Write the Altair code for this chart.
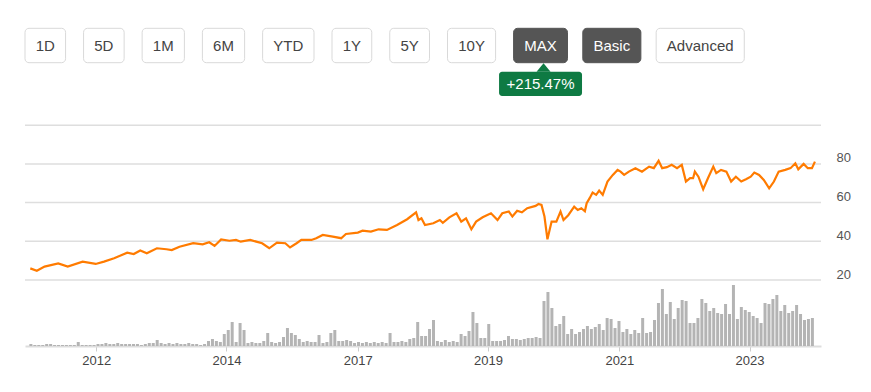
import altair as alt
import pandas as pd

# ---------------- data ----------------
price_year = [2011.59, 2011.70, 2011.83, 2012.06, 2012.22, 2012.47, 2012.69, 2012.83, 2013.00, 2013.22,
              2013.33, 2013.44, 2013.55, 2013.72, 2013.88, 2013.97, 2014.10, 2014.33, 2014.49, 2014.60,
              2014.69, 2014.80, 2014.94, 2015.05, 2015.13, 2015.29, 2015.49, 2015.61, 2015.74, 2015.88,
              2015.96, 2016.07, 2016.15, 2016.32, 2016.40, 2016.51, 2016.68, 2016.82, 2016.90, 2017.10,
              2017.18, 2017.32, 2017.45, 2017.59, 2017.76, 2017.93, 2018.08, 2018.12, 2018.17, 2018.23,
              2018.37, 2018.48, 2018.53, 2018.64, 2018.76, 2018.84, 2018.92, 2019.01, 2019.09, 2019.20,
              2019.34, 2019.45, 2019.53, 2019.64, 2019.70, 2019.78, 2019.86, 2019.95, 2020.09, 2020.14,
              2020.19, 2020.24, 2020.29, 2020.36, 2020.44, 2020.51, 2020.56, 2020.64, 2020.74, 2020.80,
              2020.86, 2020.92, 2020.95, 2021.00, 2021.05, 2021.11, 2021.16, 2021.22, 2021.30, 2021.39,
              2021.47, 2021.52, 2021.58, 2021.66, 2021.77, 2021.88, 2022.00, 2022.08, 2022.16, 2022.22,
              2022.30, 2022.38, 2022.47, 2022.55, 2022.62, 2022.69, 2022.74, 2022.77, 2022.83, 2022.91,
              2022.99, 2023.08, 2023.13, 2023.21, 2023.30, 2023.38, 2023.46, 2023.55, 2023.63, 2023.71,
              2023.77, 2023.85, 2023.93, 2024.02, 2024.10, 2024.18, 2024.29, 2024.38, 2024.46, 2024.51,
              2024.60, 2024.67, 2024.74, 2024.79]
price_value = [26.0, 24.8, 26.9, 28.6, 26.9, 29.5, 28.3, 29.5, 31.2, 34.1,
               33.4, 35.2, 33.8, 36.4, 35.9, 35.5, 37.2, 39.0, 38.4, 39.5,
               37.6, 41.0, 40.3, 40.7, 39.8, 40.7, 39.0, 36.4, 39.3, 39.0,
               36.8, 39.0, 40.7, 40.7, 41.6, 43.3, 42.4, 41.6, 43.8, 44.5,
               45.5, 45.0, 46.2, 45.9, 48.4, 51.4, 55.0, 51.0, 51.9, 48.4,
               49.3, 51.0, 49.6, 52.4, 54.5, 50.2, 51.9, 46.2, 50.2, 52.4,
               54.5, 51.0, 54.5, 55.4, 52.8, 55.8, 55.0, 57.1, 58.3, 59.3,
               58.8, 52.8, 41.0, 50.2, 50.2, 55.4, 51.0, 53.5, 57.9, 56.2,
               57.1, 55.5, 59.7, 62.3, 65.2, 64.0, 66.2, 64.0, 70.9, 74.3,
               76.9, 76.0, 74.3, 76.0, 77.8, 76.0, 78.6, 77.8, 81.6, 77.8,
               78.3, 79.5, 77.8, 79.5, 70.9, 72.6, 72.6, 76.0, 73.4, 66.9,
               72.6, 78.6, 75.2, 76.9, 76.0, 70.9, 73.4, 70.9, 72.1, 73.4,
               75.5, 74.3, 71.7, 67.4, 70.9, 76.0, 76.9, 77.8, 80.3, 77.2,
               80.0, 77.8, 77.8, 81.2]

vol_start = 2011.60     # first volume bar (decimal year)
vol_step = 0.0664       # years between bars
volume = [2, 1, 1, 1, 2, 2, 1, 1, 1, 1, 1, 1, 4, 1, 1, 1, 1, 2, 2, 3, 2, 2, 3, 2, 2, 2, 2, 2, 1,
          2, 3, 3, 6, 3, 2, 3, 2, 3, 2, 2, 3, 2, 2, 1, 2, 5, 7, 5, 4, 12,
          16, 24, 4, 23, 16, 3, 4, 3, 3, 5, 13, 4, 3, 4, 9, 18, 13, 11, 7,
          4, 5, 4, 4, 11, 3, 4, 13, 16, 5, 5, 6, 5, 3, 4, 3, 4, 3, 4, 3, 4, 3, 13, 4, 4,
          5, 4, 7, 8, 24, 10, 10, 17, 26, 5, 4, 6, 4, 5, 4, 12, 10, 15, 34, 23, 8, 8, 22, 5, 5,
          5, 6, 10, 7, 7, 6, 7, 8, 8, 9, 8, 45, 54, 38, 20, 22, 30,
          12, 17, 12, 14, 17, 20, 17, 19, 22, 16, 28, 27, 18, 25, 14, 17, 12, 16, 13, 28, 13, 14, 26, 43, 57,
          32, 44, 27, 38, 46, 45, 23, 23, 28, 47, 43, 35, 38, 33, 32, 42, 32, 61, 27, 39, 36, 34, 30, 28, 23,
          43, 42, 47, 51, 35, 41, 33, 35, 41, 32, 26, 27, 28]

tick_years = [2012.70, 2014.89, 2017.10, 2019.29, 2021.50, 2023.69]
tick_labels = ["2012", "2014", "2017", "2019", "2021", "2023"]
price_ticks = [20, 40, 60, 80, 100]

buttons = ["1D", "5D", "1M", "6M", "YTD", "1Y", "5Y", "10Y", "MAX", "Basic", "Advanced"]
active = ["MAX", "Basic"]
badge_text = "+215.47%"

assert len(price_year) == len(price_value)

# ---------------- layout / style ----------------
FONT = "Liberation Sans"
W, H = 855, 338
X_RANGE = [17, 813]
X_DOMAIN = [2011.585, 2024.808]
ORANGE = "#ff7b00"
GREEN = "#0e7a43"

price_df = pd.DataFrame({"yr": price_year, "price": price_value})
vol_df = pd.DataFrame({"yr": [vol_start + i * vol_step for i in range(len(volume))],
                       "vol": volume})
grid_df = pd.DataFrame({"price": price_ticks})

label_expr = " : ".join(
    f"abs(datum.value - {v}) < 0.01 ? '{l}'" for v, l in zip(tick_years, tick_labels)
) + " : ''"

x_enc = alt.X(
    "yr:Q",
    scale=alt.Scale(domain=X_DOMAIN, range=X_RANGE, nice=False, zero=False),
    axis=alt.Axis(values=tick_years, labelExpr=label_expr, title=None, grid=False,
                  domainColor="#dddddd", domainWidth=2, tickColor="#cccccc", tickSize=5,
                  labelFontSize=13, labelColor="#444444", labelFont=FONT, labelPadding=3,
                  labelFlush=False, labelOverlap=False),
)
price_scale = alt.Scale(domain=[20, 100], range=[272, 117.2], nice=False, zero=False)

grid = alt.Chart(grid_df).mark_rule(color="#dedede", strokeWidth=1.5).encode(
    x=alt.value(X_RANGE[0]), x2=alt.value(X_RANGE[1]),
    y=alt.Y("price:Q", scale=price_scale, axis=None),
)

line = alt.Chart(price_df).mark_line(color=ORANGE, strokeWidth=2.2).encode(
    x=x_enc,
    y=alt.Y("price:Q", scale=price_scale,
            axis=alt.Axis(orient="right", values=price_ticks,
                          labelExpr="datum.value >= 100 ? '' : datum.label",
                          grid=False, domain=False, ticks=False, labelPadding=-27,
                          labelBaseline="alphabetic", labelOffset=-2,
                          labelFontSize=13, labelColor="#555555", labelFont=FONT,
                          labelOverlap=False, title=None)),
)

bars = alt.Chart(vol_df).mark_bar(color="#b4b4b4", size=3).encode(
    x=x_enc,
    y=alt.Y("vol:Q", scale=alt.Scale(domain=[0, 66], range=[338, 272], nice=False, zero=True),
            axis=None),
)

# ---------------- buttons (page chrome) ----------------
CW = {'1': .556, '5': .556, '6': .556, '0': .556, 'D': .722, 'M': .833, 'Y': .667, 'T': .611,
      'A': .667, 'X': .667, 'B': .667, 'a': .556, 's': .5, 'i': .222, 'c': .5, 'v': .5,
      'n': .556, 'e': .556, 'd': .556, '+': .584, '2': .556, '4': .556, '7': .556, '.': .278,
      '%': .889}


def text_w(s, size=15):
    return sum(CW.get(ch, 0.6) for ch in s) * size


dummy = pd.DataFrame({"k": [0]})
layers = []
xpos = 17.0
BY0, BY1 = 20.3, 54.7
max_center = None
for i, lab in enumerate(buttons):
    w = text_w(lab) + 21.4
    on = lab in active
    rect = alt.Chart(dummy).mark_rect(
        cornerRadius=4, fill="#555555" if on else "white",
        stroke="#555555" if on else "#d9d9d9", strokeWidth=1
    ).encode(x=alt.value(xpos), x2=alt.value(xpos + w), y=alt.value(BY0), y2=alt.value(BY1))
    txt = alt.Chart(dummy).mark_text(
        text=lab, font=FONT, fontSize=15, color="white" if on else "#444444",
        align="center", baseline="middle"
    ).encode(x=alt.value(xpos + w / 2), y=alt.value((BY0 + BY1) / 2 + 0.5))
    layers += [rect, txt]
    if lab == "MAX":
        max_center = xpos + w / 2
    xpos += w + (15.3 if lab in active else 18.0)

bw = text_w(badge_text) + 15
bx0 = max_center - bw / 2
tri = alt.Chart(dummy).mark_point(
    shape="M-1,0.6L0,-0.6L1,0.6Z", filled=True, fill=GREEN, opacity=1, size=196, strokeWidth=0
).encode(x=alt.value(max_center + 3), y=alt.value(59.5))
badge = alt.Chart(dummy).mark_rect(cornerRadius=3, fill=GREEN).encode(
    x=alt.value(bx0), x2=alt.value(bx0 + bw), y=alt.value(63.7), y2=alt.value(88))
badge_t = alt.Chart(dummy).mark_text(
    text=badge_text, font=FONT, fontSize=15, color="white", align="center", baseline="middle"
).encode(x=alt.value(max_center), y=alt.value(76.4))

chart = alt.layer(grid, bars, line, *layers, tri, badge, badge_t).resolve_scale(
    y="independent"
).properties(
    width=W, height=H,
    autosize=alt.AutoSizeParams(type="none"),
    padding={"left": 0, "top": 0, "right": 0, "bottom": 38},
    background="white",
).configure_view(stroke=None)

chart.save("out.html", embed_options={"renderer": "svg", "actions": False})
